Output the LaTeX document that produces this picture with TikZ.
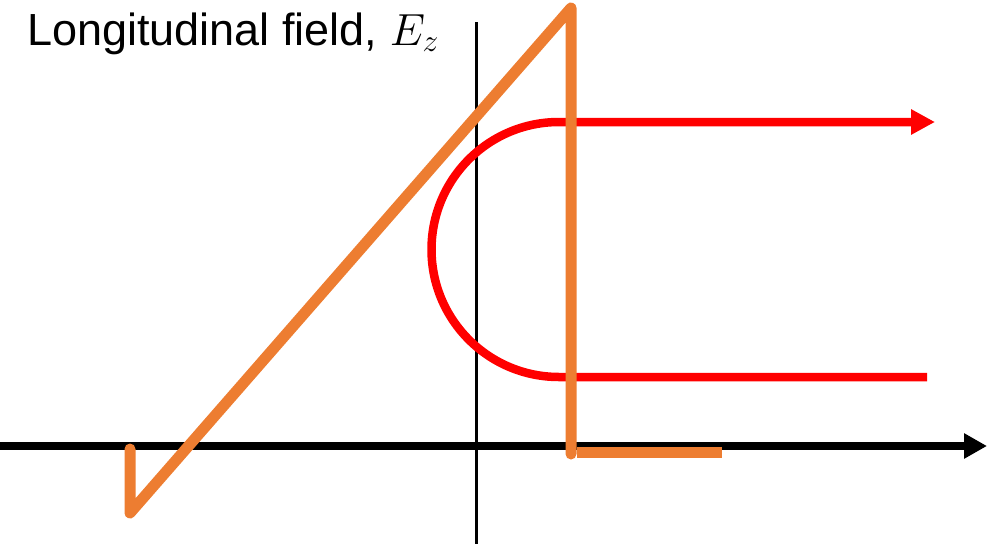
\RequirePackage{fix-cm}
\documentclass[tikz,border=0pt]{standalone}
\usepackage{fontspec}
\setmainfont{Liberation Sans}
\usepackage{tikz}
\usetikzlibrary{arrows.meta, positioning}
\definecolor{fieldorange}{HTML}{ED7D31}
\definecolor{beamred}{HTML}{FF0000}
\tikzset{
  % axes
  axis/.style={line width=8pt, -{Triangle[length=23pt, width=24pt]}},
  vaxis/.style={line width=3pt},
  % field profile
  field/.style={draw=fieldorange, line width=11pt, line cap=round, line join=round},
  % particle trajectory
  orbit/.style={draw=beamred, line width=8.5pt},
  % label
  axlabel/.style={font=\fontsize{45}{54}\selectfont, inner sep=0pt, anchor=base west},
}
\begin{document}
\begin{tikzpicture}[x=1pt, y=-1pt]
  \useasboundingbox (0,0) rectangle (1004,544);
  % Axes
  \coordinate (xstart) at (0,446);
  \coordinate (xend) at (987,446);
  \coordinate (ytop) at (476,22);
  \coordinate (ybot) at (476,544);
  \draw[vaxis] (ytop) -- (ybot);
  \draw[axis] (xstart) -- (xend);

  % Trajectory
  \draw[orbit, -{Triangle[length=24pt, width=24pt]}]
    (927,377) -- (559,377) arc[start angle=90, end angle=270, radius=127.5]
    -- (935,122);

  % Field profile
  \draw[field] (130,449) -- (130,513) -- (571,8) -- (571,454);
  \draw[field, line cap=butt] (577,452) -- (722,452);

  % Label
  \node[axlabel] (title) at (27,45) {Longitudinal field, $E_z$};
\end{tikzpicture}
\end{document}
